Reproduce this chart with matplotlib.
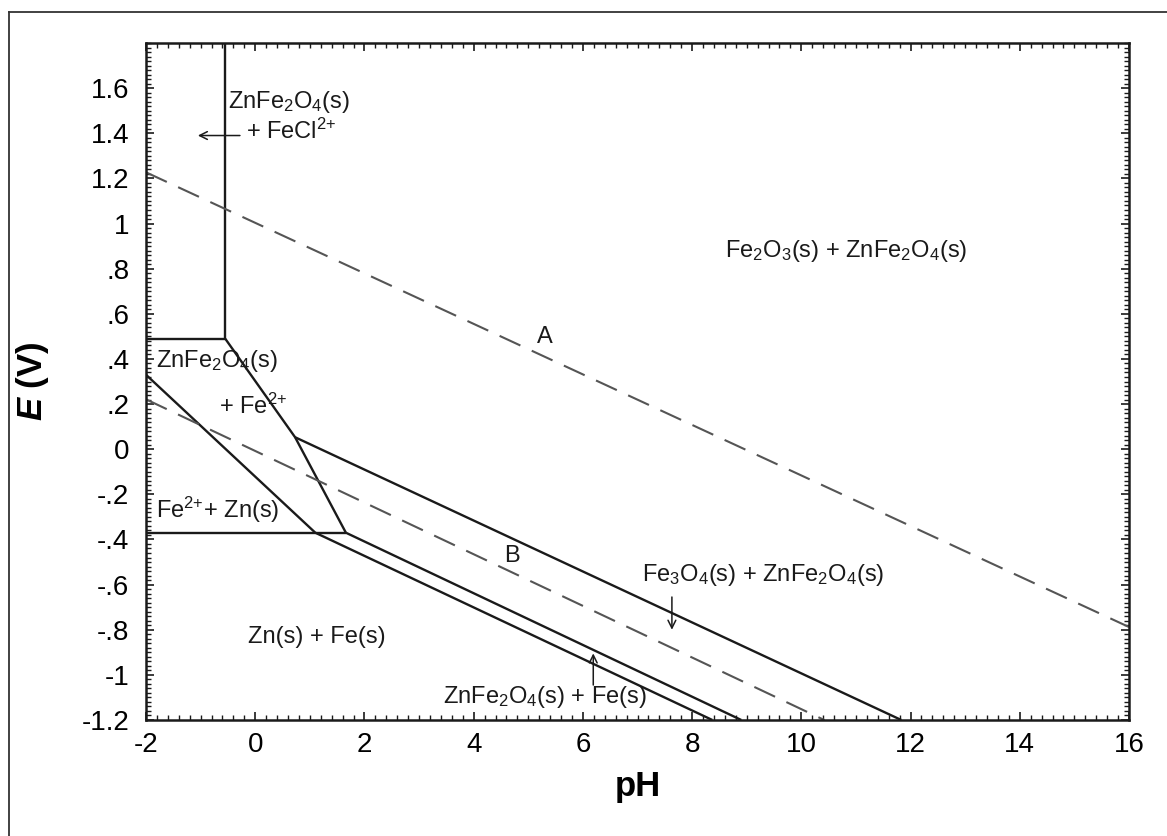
import matplotlib
matplotlib.use("Agg")
import matplotlib.pyplot as plt
from matplotlib.lines import Line2D
from matplotlib.ticker import MultipleLocator, FixedLocator

plt.rcParams['font.family'] = ['Liberation Sans', 'DejaVu Sans']
plt.rcParams['axes.unicode_minus'] = False
plt.rcParams['mathtext.fontset'] = 'custom'
plt.rcParams['mathtext.rm'] = 'Liberation Sans'
plt.rcParams['mathtext.it'] = 'Liberation Sans:italic'
plt.rcParams['mathtext.bf'] = 'Liberation Sans:bold'
plt.rcParams['mathtext.bfit'] = 'Liberation Sans:italic:bold'

# ---- data (pH, E) ----
vert_pH = [-0.55, -0.55]
vert_E = [1.8, 0.49]
top_h_pH = [-2, -0.55]
top_h_E = [0.49, 0.49]
fe2_bnd_pH = [-0.55, 0.73, 1.66]
fe2_bnd_E = [0.49, 0.053, -0.37]
bot_h_pH = [-2, 1.66]
bot_h_E = [-0.37, -0.37]
zn_line_pH = [-2, 1.1, 8.37]
zn_line_E = [0.33, -0.37, -1.2]
fe_line_pH = [1.66, 8.9]
fe_line_E = [-0.37, -1.2]
fe3o4_pH = [0.73, 11.83]
fe3o4_E = [0.053, -1.2]
lineA_pH = [-2, 16]
lineA_E = [1.227, -0.788]
lineB_pH = [-2, 10.42]
lineB_E = [0.221, -1.2]

xticks = [-2, 0, 2, 4, 6, 8, 10, 12, 14, 16]
yticks = [-1.2, -1.0, -0.8, -0.6, -0.4, -0.2, 0, 0.2, 0.4, 0.6, 0.8, 1.0, 1.2, 1.4, 1.6]
ytick_labels = ['-1.2', '-1', '-.8', '-.6', '-.4', '-.2', '0', '.2', '.4', '.6', '.8', '1', '1.2', '1.4', '1.6']

labels = [  # (text, pH, E, horizontal alignment)
    (r'ZnFe$_2$O$_4$(s)', 0.62, 1.54, 'center'),
    (r'+ FeCl$^{2{+}}$', 0.66, 1.41, 'center'),
    (r'Fe$_2$O$_3$(s) + ZnFe$_2$O$_4$(s)', 10.82, 0.877, 'center'),
    ('A', 5.31, 0.496, 'center'),
    (r'ZnFe$_2$O$_4$(s)', -1.82, 0.39, 'left'),
    (r'+ Fe$^{2{+}}$', -0.04, 0.19, 'center'),
    (r'Fe$^{2{+}}$+ Zn(s)', -1.82, -0.27, 'left'),
    ('B', 4.70, -0.474, 'center'),
    (r'Fe$_3$O$_4$(s) + ZnFe$_2$O$_4$(s)', 9.3, -0.558, 'center'),
    ('Zn(s) + Fe(s)', 1.13, -0.833, 'center'),
    (r'ZnFe$_2$O$_4$(s) + Fe(s)', 5.31, -1.098, 'center'),
]
arrows = [  # (from pH, from E, to pH, to E)
    (-0.28, 1.39, -1.05, 1.39),
    (7.63, -0.655, 7.63, -0.80),
    (6.19, -1.045, 6.19, -0.905),
]

fig = plt.figure(figsize=(11.67, 8.36), dpi=100)
ax = fig.add_axes([146/1167, 1-720/836, (1129-146)/1167, (720-43)/836])

solid_kw = dict(color='#1a1a1a', lw=1.7, solid_capstyle='butt')
for xs, ys in [(vert_pH, vert_E), (top_h_pH, top_h_E), (fe2_bnd_pH, fe2_bnd_E),
               (bot_h_pH, bot_h_E), (zn_line_pH, zn_line_E), (fe_line_pH, fe_line_E),
               (fe3o4_pH, fe3o4_E)]:
    ax.plot(xs, ys, **solid_kw)

dash_kw = dict(color='#555555', lw=1.5, dashes=(11, 6))
ax.plot(lineA_pH, lineA_E, **dash_kw)
ax.plot(lineB_pH, lineB_E, **dash_kw)

for txt, x, y, ha in labels:
    ax.text(x, y, txt, fontsize=17, ha=ha, va='center', color='#1a1a1a')

for x0, y0, x1, y1 in arrows:
    ax.annotate('', xy=(x1, y1), xytext=(x0, y0),
                arrowprops=dict(arrowstyle='->', color='#1a1a1a', lw=1.1,
                                shrinkA=0, shrinkB=0, mutation_scale=14))

ax.set_xlim(-2, 16)
ax.set_ylim(-1.2, 1.8)
ax.xaxis.set_major_locator(FixedLocator(xticks))
ax.xaxis.set_minor_locator(MultipleLocator(0.2))
ax.yaxis.set_major_locator(FixedLocator(yticks))
ax.set_yticklabels(ytick_labels)
ax.yaxis.set_minor_locator(MultipleLocator(0.02))
ax.tick_params(which='both', direction='in', top=True, right=True, color='#1a1a1a')
ax.tick_params(which='major', length=6, width=1.2, labelsize=20, pad=9)
ax.tick_params(which='minor', length=3.5, width=1.0)
ax.tick_params(axis='y', which='major', pad=12)
for s in ax.spines.values():
    s.set_linewidth(1.8)
    s.set_color('#1a1a1a')

ax.set_xlabel('pH', fontsize=25, fontweight='bold', labelpad=8)
ax.set_ylabel(r'$\mathbfit{E}$ (V)', fontsize=25, fontweight='bold', labelpad=22)

# outer frame (left and top edges visible)
fig.add_artist(Line2D([9/1167, 9/1167], [0, 1-12/836], color='#333333', lw=1.3))
fig.add_artist(Line2D([9/1167, 1], [1-12/836, 1-12/836], color='#333333', lw=1.3))

fig.savefig('out.png', dpi=100)
